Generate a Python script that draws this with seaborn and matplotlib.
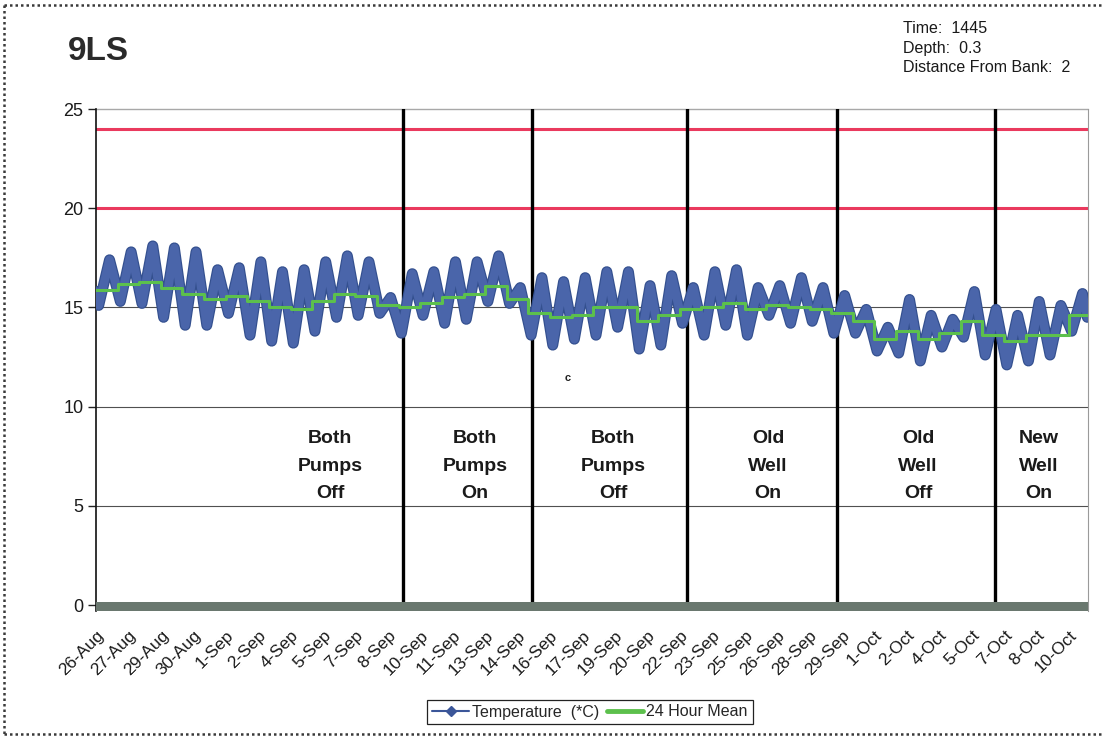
import numpy as np
import pandas as pd
import matplotlib
matplotlib.use("Agg")
import matplotlib.pyplot as plt
import matplotlib.patheffects as pe
from matplotlib.lines import Line2D
import seaborn as sns

# ---------------------------------------------------------------------------
# Water temperature at site 9LS (deg C), 26-Aug to 10-Oct
# one low (early morning) and one high (afternoon) reading per day
# ---------------------------------------------------------------------------
daily_low = [15.1, 15.3, 15.2, 14.5, 14.1, 14.1, 14.7, 13.6, 13.3, 13.2,
             13.8, 14.5, 14.6, 14.7, 13.7, 14.6, 14.2, 14.4, 15.3, 15.2,
             13.6, 13.1, 13.4, 13.6, 14.0, 12.9, 13.1, 14.2, 13.6, 14.1,
             13.6, 14.6, 14.2, 14.3, 13.7, 13.7, 12.8, 12.7, 12.3, 13.0,
             13.5, 12.6, 12.1, 12.3, 12.6, 13.8]
daily_high = [17.4, 17.8, 18.1, 18.0, 17.8, 16.9, 17.0, 17.3, 16.8, 16.9,
              17.3, 17.6, 17.3, 15.5, 16.7, 16.8, 17.3, 17.3, 17.6, 16.0,
              16.5, 16.3, 16.5, 16.8, 16.8, 16.1, 16.6, 16.0, 16.8, 16.9,
              16.0, 16.1, 16.5, 16.0, 15.6, 14.9, 14.0, 15.4, 14.6, 14.4,
              15.8, 14.9, 14.6, 15.3, 15.1, 15.7]
daily_mean = [15.9, 16.2, 16.3, 16.0, 15.7, 15.4, 15.6, 15.3, 15.0, 14.9,
              15.3, 15.7, 15.6, 15.1, 15.0, 15.2, 15.5, 15.7, 16.1, 15.4,
              14.7, 14.5, 14.6, 15.0, 15.0, 14.3, 14.6, 14.9, 15.0, 15.2,
              14.9, 15.1, 15.0, 14.9, 14.7, 14.3, 13.4, 13.8, 13.4, 13.7,
              14.3, 13.6, 13.3, 13.6, 13.6, 14.6]
first_reading = 15.8
last_reading = 14.5
last_reading_day = 45.85

LOW_HOUR = 3
HIGH_HOUR = 15

tick_labels = ["26-Aug", "27-Aug", "29-Aug", "30-Aug", "1-Sep", "2-Sep",
               "4-Sep", "5-Sep", "7-Sep", "8-Sep", "10-Sep", "11-Sep",
               "13-Sep", "14-Sep", "16-Sep", "17-Sep", "19-Sep", "20-Sep",
               "22-Sep", "23-Sep", "25-Sep", "26-Sep", "28-Sep", "29-Sep",
               "1-Oct", "2-Oct", "4-Oct", "5-Oct", "7-Oct", "8-Oct", "10-Oct"]

# temperature limits (deg C)
limit_lines = [24, 20]

# days (from 26-Aug) at which the pumping regime changed
regime_changes = [14.21, 20.15, 27.32, 34.26, 41.58]
regime_names = ["Both\nPumps\nOff", "Both\nPumps\nOn", "Both\nPumps\nOff",
                "Old\nWell\nOn", "Old\nWell\nOff", "New\nWell\nOn"]

# ---------------------------------------------------------------------------
days = np.arange(len(daily_high))
t = [0.0]
v = [first_reading]
for d, lo, hi in zip(days, daily_low, daily_high):
    t += [d + LOW_HOUR / 24, d + HIGH_HOUR / 24]
    v += [lo, hi]
t.append(last_reading_day)
v.append(last_reading)
temps = pd.DataFrame({"day": t, "temp": v})

means = pd.DataFrame({"day": np.append(days, last_reading_day + 0.05),
                      "mean": np.append(daily_mean, daily_mean[-1])})

sns.set_theme(style="white")
plt.rcParams["font.family"] = ["Liberation Sans", "DejaVu Sans"]

W, H = 1102, 739
fig = plt.figure(figsize=(W / 100, H / 100), dpi=100)
ax = fig.add_axes([96 / W, 1 - 611 / H, (1088 - 96) / W, (611 - 109) / H])

x_max = 45.88
ax.set_xlim(0, x_max)
ax.set_ylim(-0.3, 25)

# horizontal grid
for g in [5, 10, 15, 20]:
    ax.axhline(g, color="#505050", lw=0.8, zorder=1)
ax.axhline(25, color="#a8a8a8", lw=1.0, zorder=1, clip_on=False)

# limit lines
for lim in limit_lines:
    ax.axhline(lim, color="#ea3a5e", lw=2.2, zorder=2)

# regime change markers
for xc in regime_changes:
    ax.axvline(xc, color="black", lw=2.4, zorder=3)

blue = "#4a65aa"
sns.lineplot(data=temps, x="day", y="temp", ax=ax, estimator=None, sort=False,
             color=blue, lw=6.2, zorder=4, legend=False,
             solid_joinstyle="round", solid_capstyle="round",
             path_effects=[pe.Stroke(linewidth=7.9, foreground="#34508f"),
                           pe.Normal()])
sns.lineplot(data=means, x="day", y="mean", ax=ax, estimator=None, sort=False,
             color="#5cc04c", lw=2.2, zorder=5, legend=False,
             drawstyle="steps-post")

# floor band along zero
ax.axhspan(-0.3, 0.17, color="#6a786f", zorder=6, lw=0)

# regime annotations
label_days = [10.82, 17.53, 23.91, 31.08, 38.02, 43.62]
for xd, name in zip(label_days, regime_names):
    ax.text(xd, 7.0, name, ha="center", va="center", fontsize=14,
            fontweight="bold", color="#1a1a1a", linespacing=1.82, zorder=7)
ax.text(21.83, 11.44, "c", ha="center", va="center", fontsize=8,
        fontweight="bold", color="#222222", zorder=7)

# axes styling
ax.set_xlabel("")
ax.set_ylabel("")
ax.set_yticks([0, 5, 10, 15, 20, 25])
ax.set_yticklabels(["0", "5", "10", "15", "20", "25"])
ax.tick_params(axis="y", direction="out", length=6, width=1, color="#222222",
               labelsize=13, labelcolor="#1a1a1a", pad=3, left=True)
ax.set_xticks(np.arange(len(tick_labels)) * 1.5)
ax.set_xticklabels(tick_labels, rotation=45, ha="right",
                   rotation_mode="anchor", fontsize=12.5, color="#1a1a1a")
ax.tick_params(axis="x", length=0, pad=12)
for side in ["top", "bottom"]:
    ax.spines[side].set_visible(False)
ax.spines["left"].set_color("#111111")
ax.spines["left"].set_linewidth(1.2)
ax.spines["right"].set_color("#9a9a9a")
ax.spines["right"].set_linewidth(0.8)
ax.grid(False)

# titles
fig.text(68 / W, 1 - 60 / H, "9LS", fontsize=24, fontweight="bold",
         color="#2a2a2a", va="baseline", ha="left")
for yb, line in zip([33, 52.5, 72],
                    ["Time:  1445", "Depth:  0.3", "Distance From Bank:  2"]):
    fig.text(903 / W, 1 - yb / H, line, fontsize=11.5, color="#1a1a1a",
             va="baseline", ha="left")

# legend
handles = [Line2D([], [], color="#3b5699", lw=1.5, marker="D", markersize=5,
                  markerfacecolor="#3b5699"),
           Line2D([], [], color="#5cc04c", lw=3.5)]
leg = fig.legend(handles, ["Temperature  (*C)", "24 Hour Mean"],
                 loc="center", bbox_to_anchor=(590 / W, 1 - 712 / H),
                 ncol=2, fontsize=11.5, frameon=True, fancybox=False,
                 edgecolor="#222222", framealpha=1, borderpad=0.3,
                 handlelength=2.3, handletextpad=0.2, columnspacing=0.45,
                 borderaxespad=0.2)
leg.get_frame().set_linewidth(0.9)

# dotted outer border
dots = dict(color="#3a3a3a", lw=1.8, linestyle=(0, (1, 1.2)),
            transform=fig.transFigure)
fig.add_artist(Line2D([4 / W, 1], [1 - 5 / H, 1 - 5 / H], **dots))
fig.add_artist(Line2D([4 / W, 4 / W], [1 - 5 / H, 1 - 734 / H], **dots))
fig.add_artist(Line2D([4 / W, 1], [1 - 734 / H, 1 - 734 / H], **dots))

fig.savefig("out.png", dpi=100)
